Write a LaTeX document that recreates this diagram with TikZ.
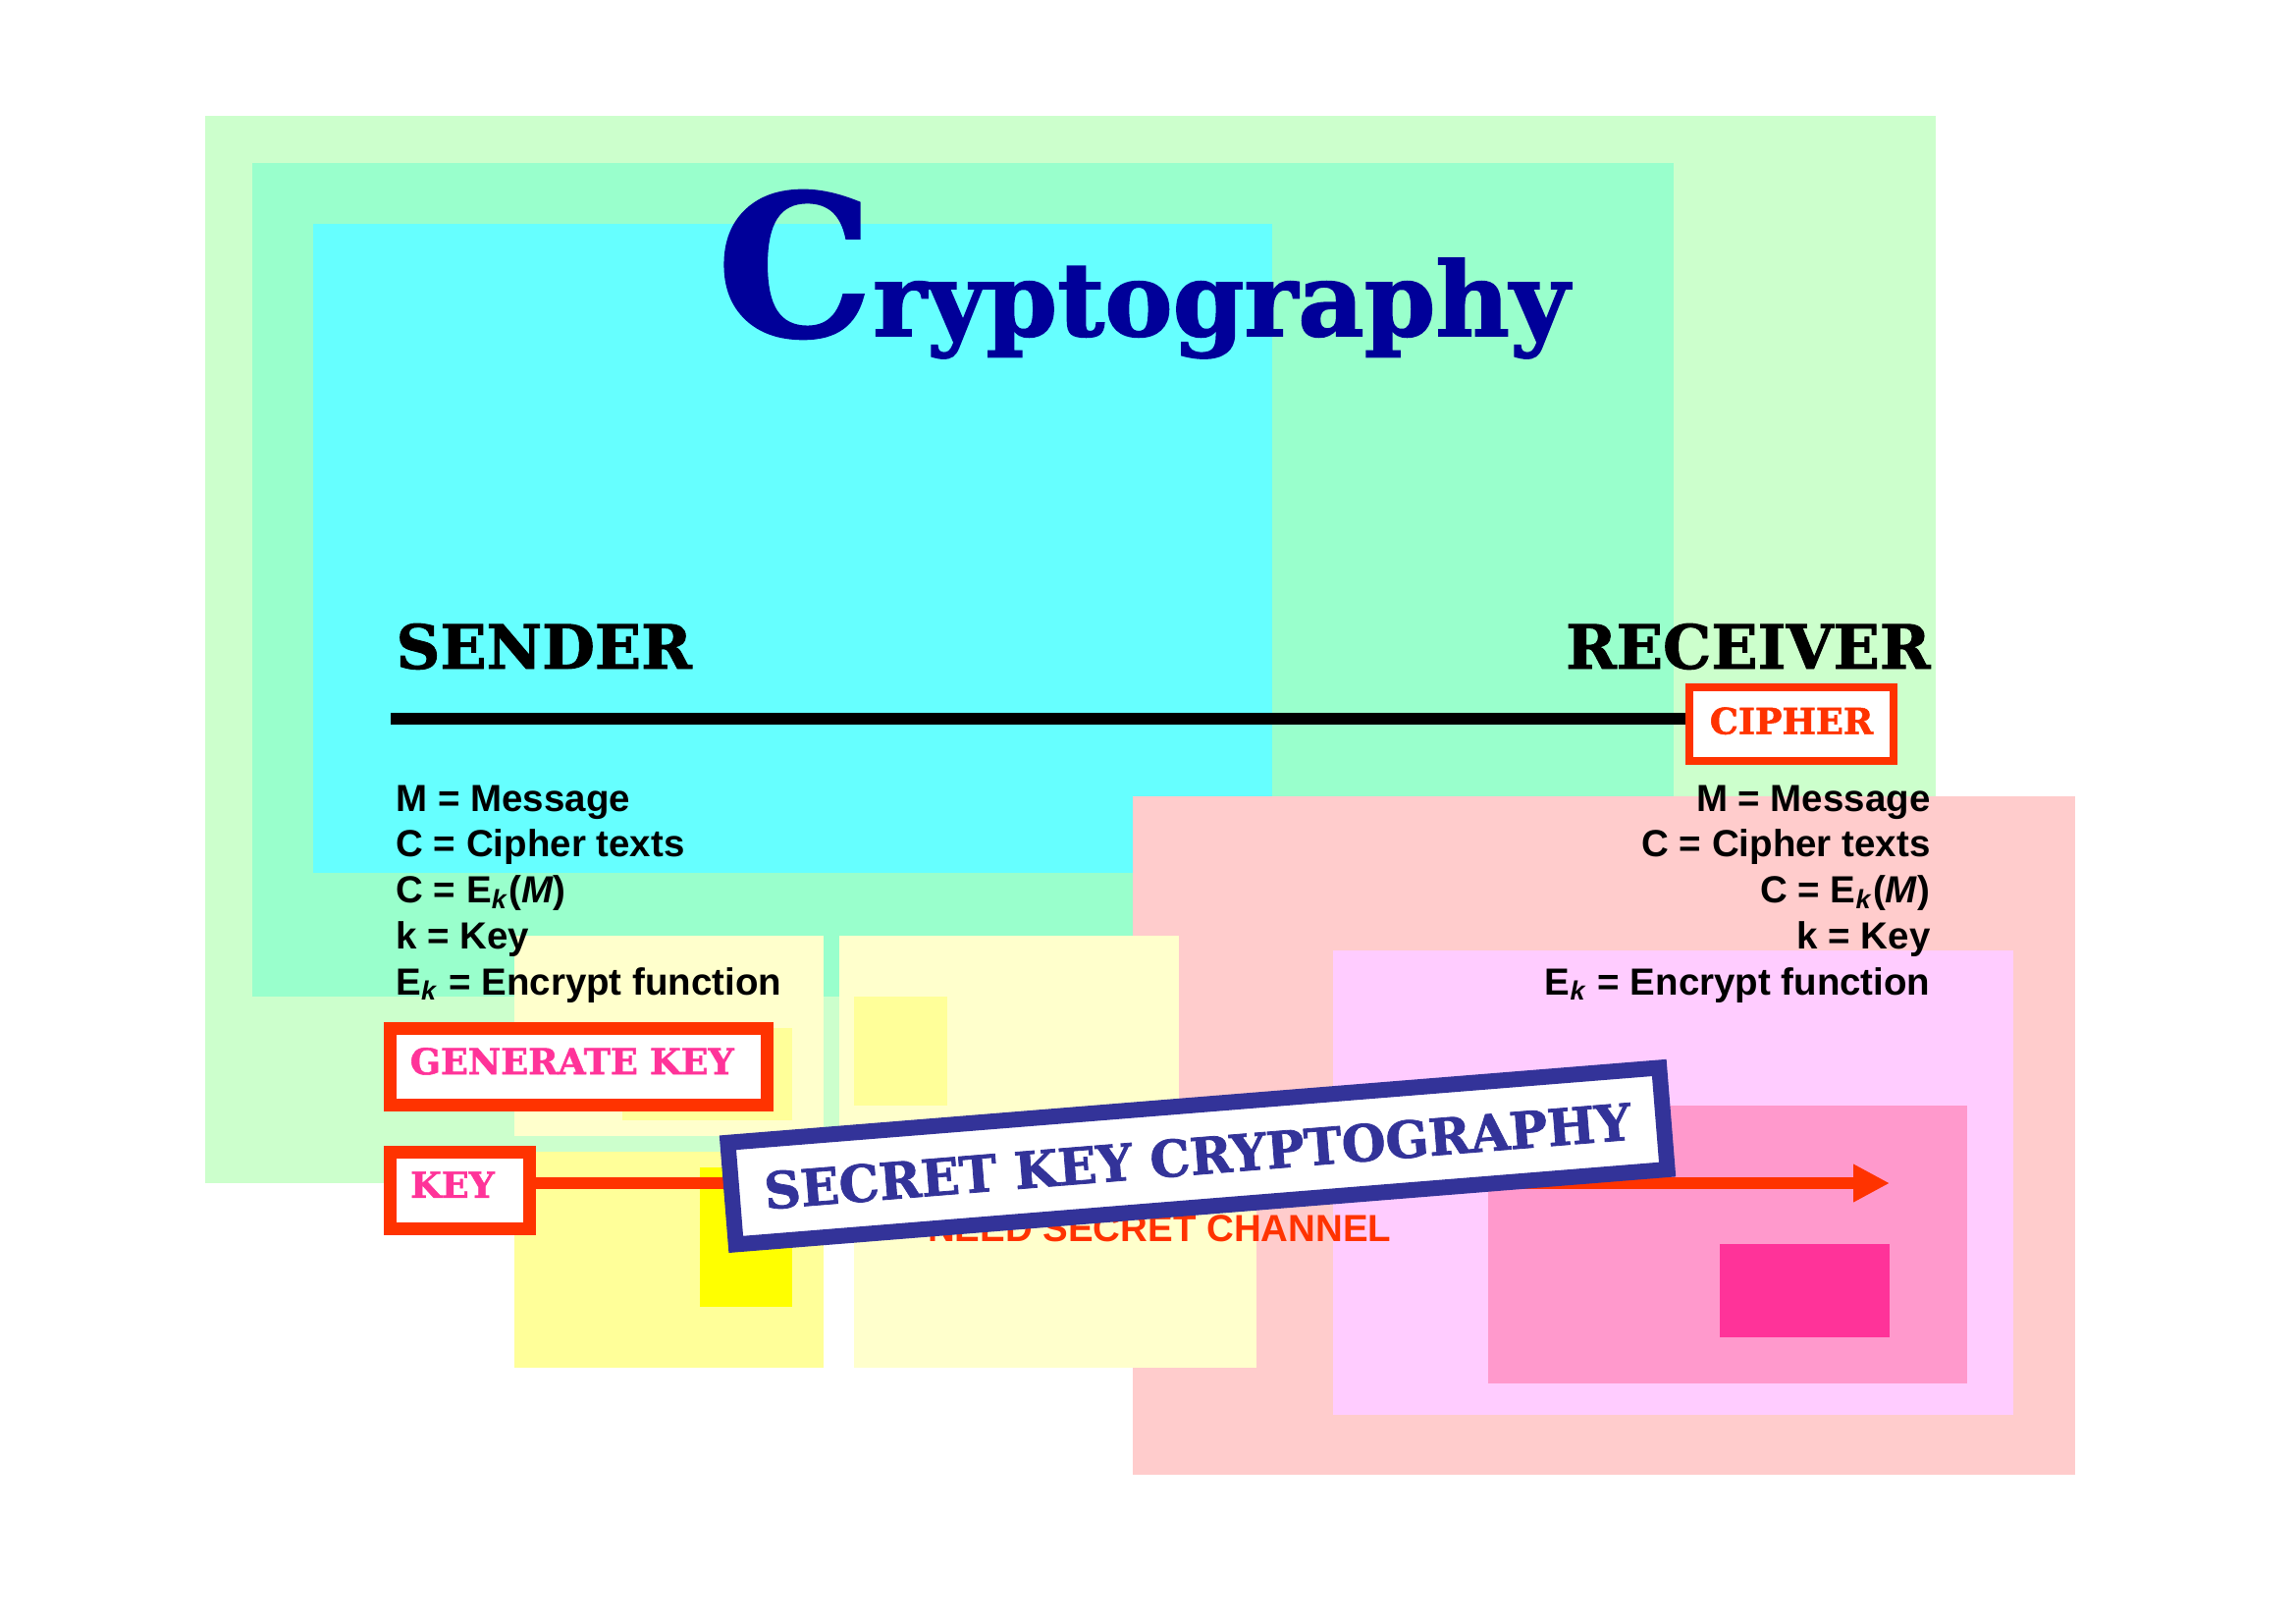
\documentclass[tikz,border=0pt]{standalone}
\usepackage{fontspec}
\setmainfont{DejaVu Serif}[BoldFeatures={FakeBold=1.5}]
\setsansfont{Liberation Sans}
\usetikzlibrary{arrows.meta,positioning}
\definecolor{paleGreen}{HTML}{CCFFCC}
\definecolor{seaGreen}{HTML}{99FFCC}
\definecolor{aqua}{HTML}{66FFFF}
\definecolor{blush}{HTML}{FFCCCC}
\definecolor{lilac}{HTML}{FFCCFF}
\definecolor{rose}{HTML}{FF99CC}
\definecolor{hotPink}{HTML}{FF3399}
\definecolor{butter}{HTML}{FFFFCC}
\definecolor{lemon}{HTML}{FFFF99}
\definecolor{canary}{HTML}{FFFF00}
\definecolor{keyRed}{HTML}{FF3300}
\definecolor{inkBlue}{HTML}{000099}
\definecolor{bannerBlue}{HTML}{333399}

\begin{document}
\begin{tikzpicture}[
    x=0.127mm, y=-0.127mm,
    >={Triangle[length=4.7mm,width=4.6mm]},
    side/.style={font=\bfseries\fontsize{22.4}{24}\selectfont, inner sep=0pt},
    defn/.style={font=\sffamily\bfseries\fontsize{13.9}{16}\selectfont, inner sep=0pt},
    tagbox/.style={draw=keyRed, fill=white, line width=1.65mm, minimum height=9.9mm,
      font=\bfseries\fontsize{13.2}{15}\selectfont, text=hotPink, inner xsep=2.6mm,
      align=left, text depth=1.5mm},
    bnr/.style={draw=bannerBlue, fill=white, line width=2.03mm, minimum width=120.9mm,
      minimum height=13.2mm, rotate=4.6, font=\bfseries\fontsize{18.6}{20}\selectfont,
      text=bannerBlue},
    wire/.style={line width=1.52mm},
  ]
  \useasboundingbox (0,0) rectangle (2339,1653);
  \fill[paleGreen] (209,118) rectangle (1972,1205);
  \fill[seaGreen] (257,166) rectangle (1705,1015);
  \fill[aqua] (319,228) rectangle (1296,889);
  \fill[blush] (1154,811) rectangle (2114,1502);
  \fill[butter] (524,953) rectangle (839,1157);
  \fill[butter] (855,953) rectangle (1201,1157);
  \fill[lemon] (524,1173) rectangle (839,1393);
  \fill[butter] (870,1173) rectangle (1280,1393);
  \fill[lemon] (634,1047) rectangle (807,1141);
  \fill[lemon] (870,1015) rectangle (965,1126);
  \fill[canary] (713,1189) rectangle (807,1331);
  \fill[lilac] (1358,968) rectangle (2051,1441);
  \fill[rose] (1516,1126) rectangle (2004,1409);
  \fill[hotPink] (1752,1267) rectangle (1925,1362);

  \node[inner sep=0pt, text=inkBlue, font=\bfseries, anchor=base west] (title) at (730,342)
    {{\fontsize{72}{72}\selectfont C}\fontsize{37.6}{40}\selectfont ryptography};
  \node[side, anchor=base west] (sender) at (403,681) {SENDER};
  \node[side, anchor=base east] (receiver) at (1967,681) {RECEIVER};

  \node[tagbox, text=keyRed, line width=1.02mm, minimum width=26.4mm, minimum height=9.5mm,
    align=center, text depth=0.9mm] (cipher) at (1825,737.5) {CIPHER};
  \coordinate (lnstart) at (398,732);
  \draw[wire] (lnstart) -- (lnstart -| cipher.west);

  \foreach \t [count=\i from 0] in {{M = Message},{C = Cipher texts},
      {C = E\textsubscript{\textit{k}}(\textit{M})},{k = Key},
      {E\textsubscript{\textit{k}} = Encrypt function}} {
    \node[defn, anchor=base west] (snd\i) at (403,{826+46.75*\i}) {\t};
    \node[defn, anchor=base east] (rcv\i) at (1967,{826+46.75*\i}) {\t};
  }

  \node[tagbox, text width=43.6mm] (genkey) at (589.5,1086.5) {GENERATE KEY};
  \node[tagbox, text width=12.8mm] (key) at (468.5,1212.5) {KEY};
  \coordinate (tip) at (1925,1205);
  \draw[->, keyRed, line width=1.6mm] (key.east |- tip) -- (tip);
  \node[defn, text=keyRed, anchor=base east] (need) at (1418,1264) {NEED SECRET CHANNEL};
  \node[bnr] (banner) at (1220,1177.4) {SECRET KEY CRYPTOGRAPHY};
\end{tikzpicture}
\end{document}
